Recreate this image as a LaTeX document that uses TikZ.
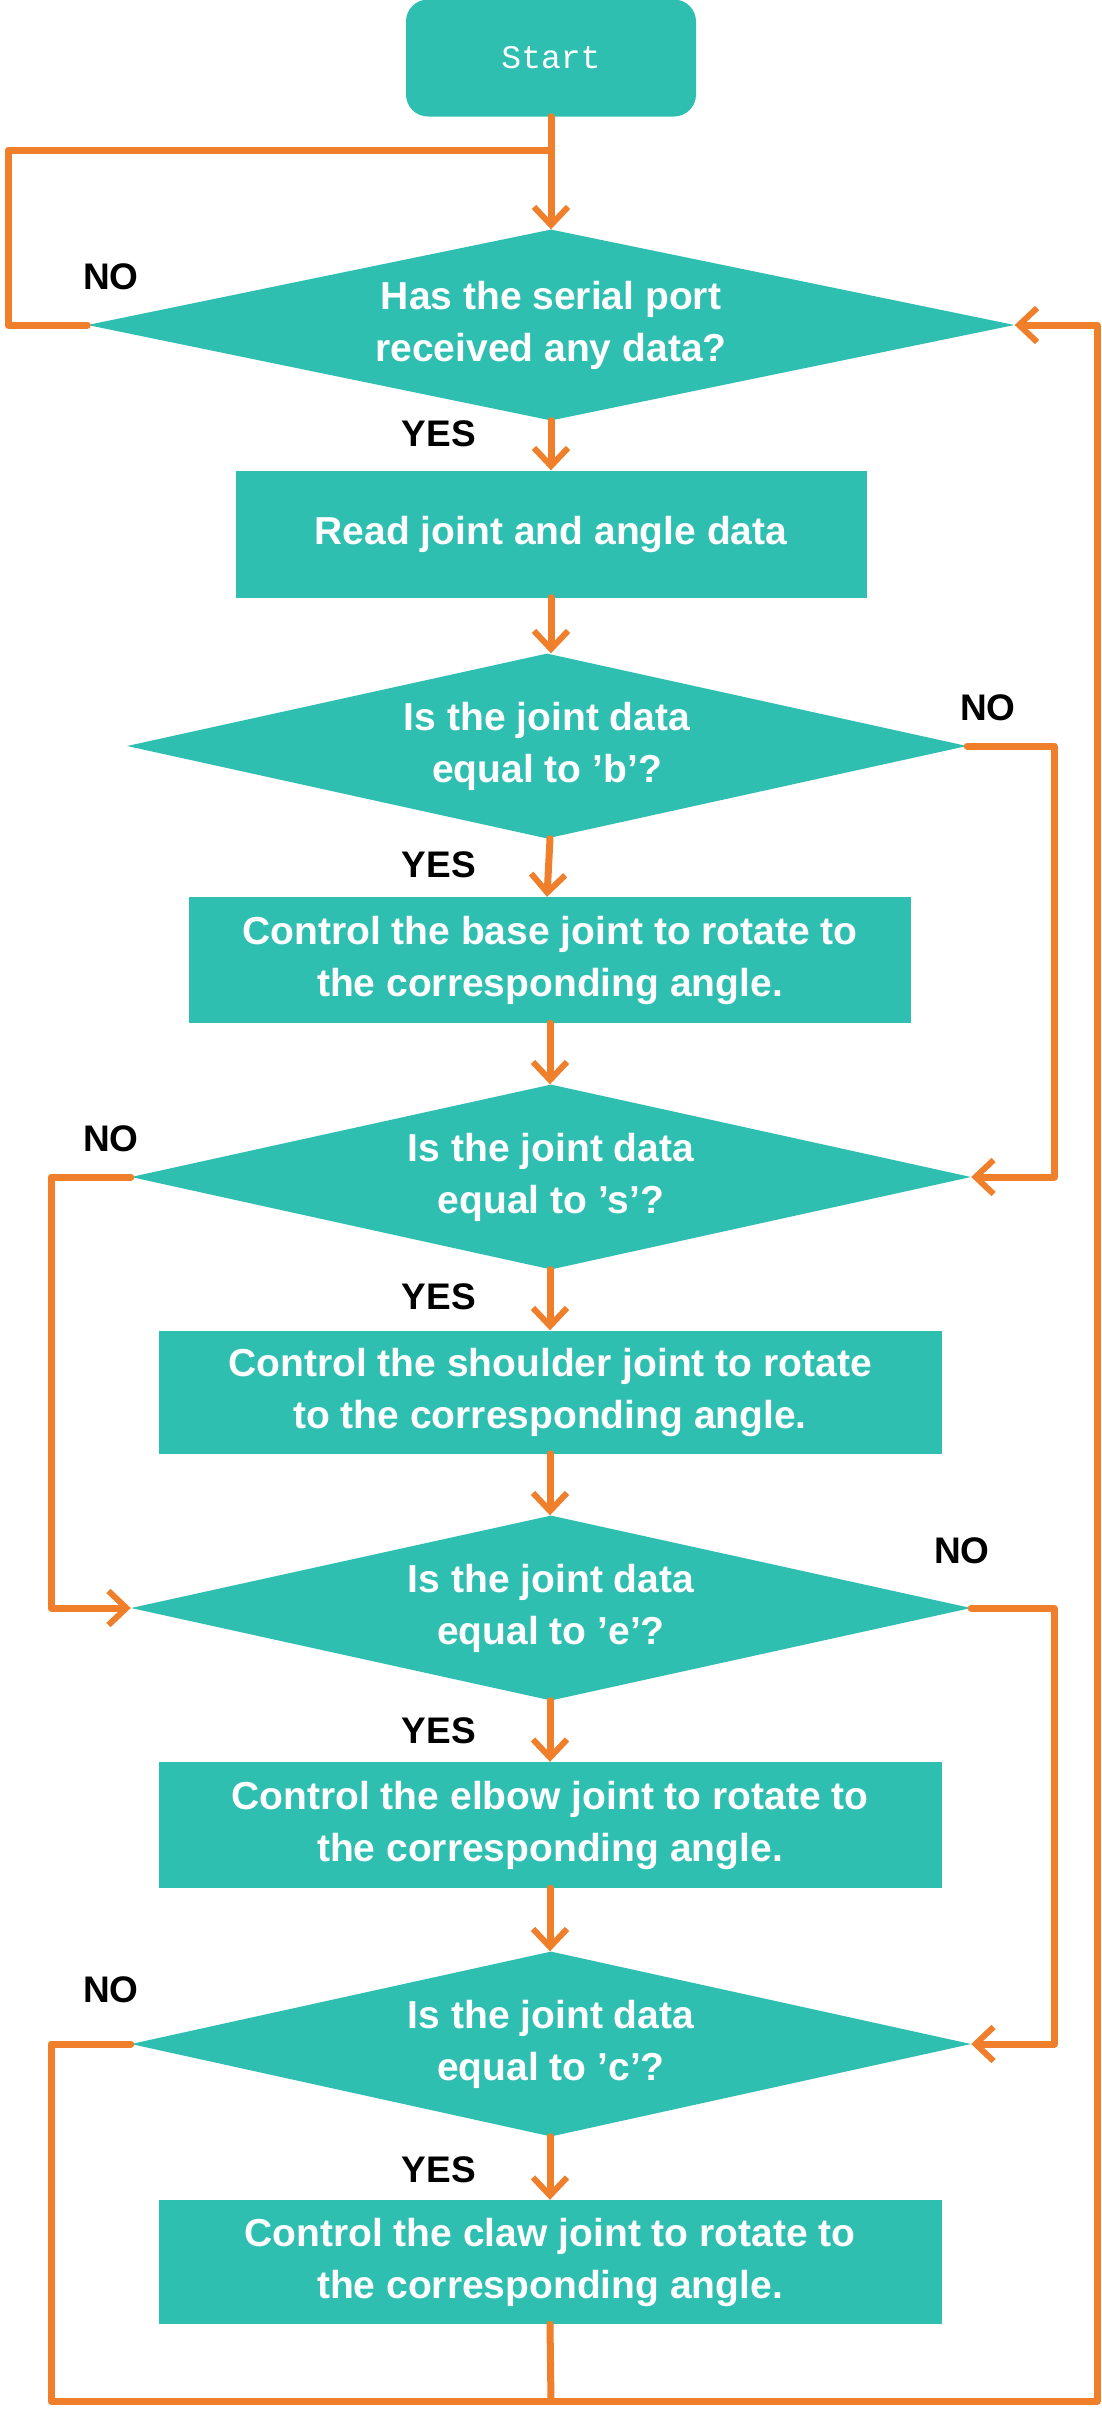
\documentclass[tikz,border=0pt]{standalone}
\usepackage{fontspec}
\setmainfont{Liberation Sans}
\setmonofont{Liberation Mono}
\usetikzlibrary{shapes.geometric,arrows.meta}
\definecolor{teal}{HTML}{2EBFB1}
\definecolor{org}{HTML}{EF7F2A}
\begin{document}
\begin{tikzpicture}[x=1pt,y=-1pt,
  proc/.style={fill=teal,draw=none,text=white,font=\bfseries\fontsize{39}{52}\selectfont,align=center,inner sep=0},
  dec/.style={diamond,shape aspect=4.5,fill=teal,draw=none,text=white,font=\bfseries\fontsize{39}{52}\selectfont,align=center,inner sep=0,minimum width=840pt,minimum height=185pt},
  lab/.style={font=\bfseries\fontsize{37}{40}\selectfont,text=black},
  ln/.style={draw=org,line width=7pt,line join=round,line cap=round},
  ar/.style={ln,-{Straight Barb[length=18pt,width=34pt,line width=6pt]}}]
\useasboundingbox (0,0) rectangle (1102,2418);
\node[proc,rounded corners=22pt,minimum width=290pt,minimum height=117pt,font=\ttfamily\fontsize{33}{36}\selectfont] (start) at (551,58) {Start};
\node[dec,minimum width=927pt,minimum height=191pt] (d1) at (551,325) {Has the serial port\\received any data?};
\node[proc,minimum width=631pt,minimum height=127pt] (read) at (551,534) {Read joint and angle data};
\node[dec] (d2) at (547,746) {Is the joint data\\equal to 'b'?};
\node[proc,minimum width=722pt,minimum height=126pt] (bb) at (550,960) {Control the base joint to rotate to\\the corresponding angle.};
\node[dec] (d3) at (551,1177) {Is the joint data\\equal to 's'?};
\node[proc,minimum width=783pt,minimum height=123pt] (bs) at (550,1392) {Control the shoulder joint to rotate\\to the corresponding angle.};
\node[dec] (d4) at (551,1608) {Is the joint data\\equal to 'e'?};
\node[proc,minimum width=783pt,minimum height=126pt] (be) at (550,1825) {Control the elbow joint to rotate to\\the corresponding angle.};
\node[dec] (d5) at (551,2044) {Is the joint data\\equal to 'c'?};
\node[proc,minimum width=783pt,minimum height=124pt] (bc) at (550,2262) {Control the claw joint to rotate to\\the corresponding angle.};
\coordinate (bot) at (551,2401);
% main flow
\draw[ar] (start.south) -- (d1.north);
\draw[ar] (d1.south) -- (read.north);
\draw[ar] (read.south) -- (d2.north -| read.south);
\draw[ar] (d2.south -| bb.north) -- (bb.north -| d2.south);
\draw[ar] (bb.south) -- (d3.north -| bb.south);
\draw[ar] (d3.south -| bs.north) -- (bs.north);
\draw[ar] (bs.south) -- (d4.north -| bs.south);
\draw[ar] (d4.south -| be.north) -- (be.north);
\draw[ar] (be.south) -- (d5.north -| be.south);
\draw[ar] (d5.south -| bc.north) -- (bc.north);
\draw[ln] (bc.south) -- (bot);
% loops
\draw[ln] (d1.west) -- (8,325) -- (8,150) -- (551,150);
\draw[ar] (d2.east) -- (1054,746) |- (d3.east);
\draw[ar] (d3.west) -- (51,1177) |- (d4.west);
\draw[ar] (d4.east) -- (1054,1608) |- (d5.east);
\draw[ar] (d5.west) -- (51,2044) |- (1097,2401) |- (d1.east);
% labels
\node[lab] at (111,277) {NO};
\node[lab] at (439,434) {YES};
\node[lab] at (988,708) {NO};
\node[lab] at (439,865) {YES};
\node[lab] at (111,1139) {NO};
\node[lab] at (439,1297) {YES};
\node[lab] at (962,1551) {NO};
\node[lab] at (439,1731) {YES};
\node[lab] at (111,1990) {NO};
\node[lab] at (439,2170) {YES};
\end{tikzpicture}
\end{document}
